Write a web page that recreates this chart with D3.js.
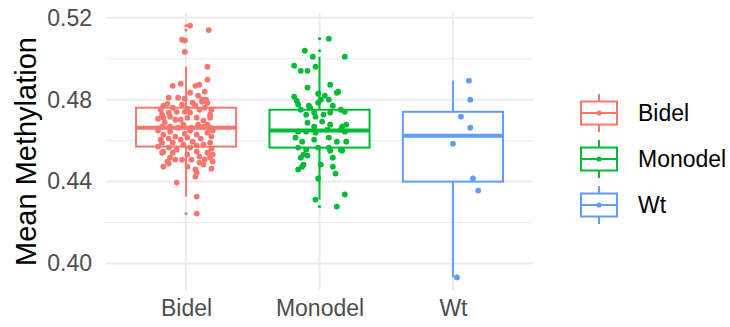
<!DOCTYPE html>
<html>
<head>
<meta charset="utf-8">
<script src="https://cdn.jsdelivr.net/npm/d3@7"></script>
<style>
body { margin: 0; background: #fff; }
text { font-family: "Liberation Sans", Arial, sans-serif; }
</style>
</head>
<body>
<svg></svg>
<script>
// canvas and panel
var width = 730, height = 327;
var panel = {left: 106, right: 533, top: 13, bottom: 290};

// groups and colours
var groups = ["Bidel", "Monodel", "Wt"];
var colors = ["#F8766D", "#00BA38", "#619CFF"];

// y ticks
var yTicks = [0.40, 0.44, 0.48, 0.52];
var yMinor = [0.42, 0.46, 0.50];

// box stats
var q1s       = [0.4571, 0.4566, 0.4400];
var medians   = [0.4663, 0.4649, 0.4624];
var q3s       = [0.4761, 0.4751, 0.4741];
var whiskerLo = [0.4327, 0.4312, 0.3932];
var whiskerHi = [0.4961, 0.5010, 0.4893];
var outliers  = [
  [0.5162, 0.5140, 0.5093, 0.5089, 0.5034, 0.4244],
  [0.5098, 0.5039, 0.4278],
  []
];

// jittered points (value, horizontal offset in category units)
var bidelValues = [0.5162, 0.5140, 0.5093, 0.5089, 0.5034, 0.4961, 0.4898, 0.4868, 0.4878, 0.4868,
  0.4873, 0.4839, 0.4810, 0.4810, 0.4834, 0.4820, 0.4800, 0.4800, 0.4790, 0.4785,
  0.4771, 0.4761, 0.4776, 0.4756, 0.4785, 0.4727, 0.4737, 0.4741, 0.4737, 0.4751,
  0.4727, 0.4707, 0.4712, 0.4717, 0.4702, 0.4712, 0.4712, 0.4668, 0.4668, 0.4678,
  0.4663, 0.4668, 0.4663, 0.4629, 0.4620, 0.4634, 0.4629, 0.4639, 0.4590, 0.4590,
  0.4580, 0.4595, 0.4580, 0.4590, 0.4546, 0.4556, 0.4546, 0.4541, 0.4517, 0.4507,
  0.4507, 0.4517, 0.4541, 0.4522, 0.4498, 0.4473, 0.4488, 0.4473, 0.4459, 0.4444,
  0.4424, 0.4463, 0.4498, 0.4493, 0.4483, 0.4395, 0.4327, 0.4244,
  0.4751, 0.4780, 0.4805, 0.4771, 0.4761, 0.4751, 0.4702, 0.4712, 0.4698, 0.4688,
  0.4663, 0.4678, 0.4649, 0.4644, 0.4649, 0.4649, 0.4610, 0.4605, 0.4615, 0.4610,
  0.4620, 0.4571, 0.4566, 0.4566, 0.4576, 0.4561, 0.4541, 0.4532, 0.4532, 0.4507,
  0.4507, 0.4605, 0.4678, 0.4741];
var bidelJitter = [0.03, 0.17, -0.03, -0.01, -0.01, 0.16, 0.16, -0.10, -0.04, 0.07,
  0.10, 0.14, -0.13, -0.06, 0.03, 0.09, 0.12, 0.15, 0.12, 0.16,
  -0.17, -0.10, -0.03, 0.01, 0.05, -0.18, -0.13, -0.07, 0.03, 0.10,
  0.18, -0.21, -0.17, -0.12, -0.04, 0.08, 0.18, -0.18, -0.12, -0.02,
  0.04, 0.13, 0.18, -0.17, -0.08, -0.01, 0.08, 0.16, -0.18, -0.10,
  -0.02, 0.05, 0.13, 0.18, -0.17, -0.07, 0.08, 0.16, -0.12, -0.03,
  0.14, 0.18, -0.18, 0.10, -0.14, -0.17, -0.13, 0.01, 0.07, 0.08,
  0.07, 0.19, 0.20, 0.10, 0.13, -0.07, 0.08, 0.08,
  -0.19, -0.14, -0.01, 0.07, 0.14, 0.19, -0.08, 0.01, 0.13, -0.16,
  -0.06, 0.09, -0.21, -0.12, 0.03, 0.20, -0.13, -0.04, 0.01, 0.11,
  0.19, -0.21, -0.13, 0.03, 0.08, 0.19, -0.10, 0.01, 0.20, -0.08,
  0.04, -0.19, 0.16, -0.01];

var monodelValues = [0.5098, 0.5039, 0.5010, 0.5010, 0.4966, 0.4941, 0.4941, 0.4961, 0.4859, 0.4873,
  0.4839, 0.4834, 0.4829, 0.4820, 0.4815, 0.4795, 0.4800, 0.4785, 0.4776, 0.4771,
  0.4771, 0.4741, 0.4751, 0.4737, 0.4737, 0.4800, 0.4761, 0.4751, 0.4727, 0.4717,
  0.4727, 0.4688, 0.4668, 0.4693, 0.4678, 0.4668, 0.4678, 0.4644, 0.4644, 0.4639,
  0.4654, 0.4654, 0.4644, 0.4615, 0.4595, 0.4605, 0.4615, 0.4595, 0.4595, 0.4566,
  0.4556, 0.4566, 0.4566, 0.4556, 0.4532, 0.4527, 0.4517, 0.4551, 0.4551, 0.4517,
  0.4483, 0.4483, 0.4473, 0.4459, 0.4473, 0.4439, 0.4415, 0.4337, 0.4312, 0.4278];
var monodelJitter = [0.07, -0.11, -0.05, 0.19, -0.19, -0.14, -0.09, -0.03, -0.09, 0.08,
  0.14, 0.13, -0.01, 0.04, -0.19, -0.17, 0.07, -0.01, -0.16, -0.08,
  0.10, 0.19, -0.14, -0.04, 0.08, 0.01, -0.07, 0.16, -0.10, -0.03,
  0.03, -0.09, -0.04, 0.02, 0.08, 0.17, 0.20, -0.16, -0.10, -0.03,
  0.06, 0.16, 0.19, -0.18, -0.13, -0.04, 0.07, 0.13, 0.20, -0.16,
  -0.10, -0.01, 0.07, 0.16, -0.12, -0.09, -0.14, 0.08, 0.17, 0.10,
  0.01, -0.12, -0.13, -0.16, 0.10, 0.12, -0.01, 0.19, -0.03, 0.13];

var wtValues = [0.4893, 0.4800, 0.4717, 0.4663, 0.4585, 0.4415, 0.4356, 0.3932];
var wtJitter = [0.12, 0.13, 0.06, 0.13, 0.00, 0.15, 0.19, 0.03];

var groupValues = [bidelValues, monodelValues, wtValues];
var groupJitter = [bidelJitter, monodelJitter, wtJitter];

// the svg
var svg = d3.select("svg")
    .attr("width", width)
    .attr("height", height);

// scales
var allValues = bidelValues.concat(monodelValues, wtValues);
var ext = d3.extent(allValues);
var pad = (ext[1] - ext[0]) * 0.05;
var y = d3.scaleLinear()
    .domain([ext[0] - pad, ext[1] + pad])
    .range([panel.bottom, panel.top]);
var x = d3.scaleLinear()
    .domain([0.4, 3.6])
    .range([panel.left, panel.right]);

// grid
var grid = svg.append("g");
grid.selectAll(".minor")
    .data(yMinor)
    .enter().append("line")
    .attr("x1", panel.left).attr("x2", panel.right)
    .attr("y1", d => y(d)).attr("y2", d => y(d))
    .attr("stroke", "#EBEBEB").attr("stroke-width", 1);
grid.selectAll(".major")
    .data(yTicks)
    .enter().append("line")
    .attr("x1", panel.left).attr("x2", panel.right)
    .attr("y1", d => y(d)).attr("y2", d => y(d))
    .attr("stroke", "#EBEBEB").attr("stroke-width", 2);
grid.selectAll(".vmajor")
    .data(groups)
    .enter().append("line")
    .attr("x1", (d, i) => x(i + 1)).attr("x2", (d, i) => x(i + 1))
    .attr("y1", panel.top).attr("y2", panel.bottom)
    .attr("stroke", "#EBEBEB").attr("stroke-width", 2);

// boxplots
var boxW = 0.375;
groups.forEach(function(g, i) {
  var c = colors[i];
  var cx = x(i + 1);
  var b = svg.append("g");
  b.append("line")
      .attr("x1", cx).attr("x2", cx)
      .attr("y1", y(q3s[i])).attr("y2", y(whiskerHi[i]))
      .attr("stroke", c).attr("stroke-width", 2);
  b.append("line")
      .attr("x1", cx).attr("x2", cx)
      .attr("y1", y(q1s[i])).attr("y2", y(whiskerLo[i]))
      .attr("stroke", c).attr("stroke-width", 2);
  b.append("rect")
      .attr("x", x(i + 1 - boxW))
      .attr("y", y(q3s[i]))
      .attr("width", x(i + 1 + boxW) - x(i + 1 - boxW))
      .attr("height", y(q1s[i]) - y(q3s[i]))
      .attr("fill", "white")
      .attr("stroke", c).attr("stroke-width", 2);
  b.append("line")
      .attr("x1", x(i + 1 - boxW)).attr("x2", x(i + 1 + boxW))
      .attr("y1", y(medians[i])).attr("y2", y(medians[i]))
      .attr("stroke", c).attr("stroke-width", 4);
  b.selectAll("circle")
      .data(outliers[i])
      .enter().append("circle")
      .attr("cx", cx).attr("cy", d => y(d))
      .attr("r", 1.6).attr("fill", c);
});

// jittered points
groups.forEach(function(g, i) {
  svg.append("g").selectAll("circle")
      .data(groupValues[i])
      .enter().append("circle")
      .attr("cx", (d, k) => x(i + 1 + groupJitter[i][k]))
      .attr("cy", d => y(d))
      .attr("r", 2.9)
      .attr("fill", colors[i]);
});

// axes
var yAxis = svg.append("g")
    .attr("transform", "translate(" + panel.left + ",0)")
    .call(d3.axisLeft(y).tickValues(yTicks).tickFormat(d3.format(".2f")).tickSize(0).tickPadding(14));
var xAxis = svg.append("g")
    .attr("transform", "translate(0," + panel.bottom + ")")
    .call(d3.axisBottom(x).tickValues([1, 2, 3]).tickFormat((d) => groups[d - 1]).tickSize(0).tickPadding(10));
[yAxis, xAxis].forEach(function(a) {
  a.select(".domain").remove();
  a.selectAll("text")
      .attr("fill", "#4D4D4D")
      .style("font-size", "23px")
      .style("font-family", "'Liberation Sans', Arial, sans-serif");
});

// axis title
svg.append("text")
    .attr("transform", "translate(36," + ((panel.top + panel.bottom) / 2) + ") rotate(-90)")
    .attr("text-anchor", "middle")
    .style("font-size", "29px")
    .attr("fill", "black")
    .text("Mean Methylation");

// legend
var legendY = [113, 159, 205];
var legend = svg.append("g");
groups.forEach(function(g, i) {
  var c = colors[i];
  var k = legend.append("g").attr("transform", "translate(599," + legendY[i] + ")");
  k.append("line").attr("x1", 0).attr("x2", 0).attr("y1", -19).attr("y2", 19)
      .attr("stroke", c).attr("stroke-width", 2);
  k.append("rect").attr("x", -18).attr("y", -11.5).attr("width", 36).attr("height", 23)
      .attr("fill", "white").attr("stroke", c).attr("stroke-width", 2);
  k.append("line").attr("x1", -18).attr("x2", 18).attr("y1", 0).attr("y2", 0)
      .attr("stroke", c).attr("stroke-width", 2);
  k.append("circle").attr("r", 2.6).attr("fill", c);
  legend.append("text")
      .attr("x", 638).attr("y", legendY[i])
      .attr("dy", "0.35em")
      .style("font-size", "23px")
      .attr("fill", "black")
      .text(g);
});
</script>
</body>
</html>
